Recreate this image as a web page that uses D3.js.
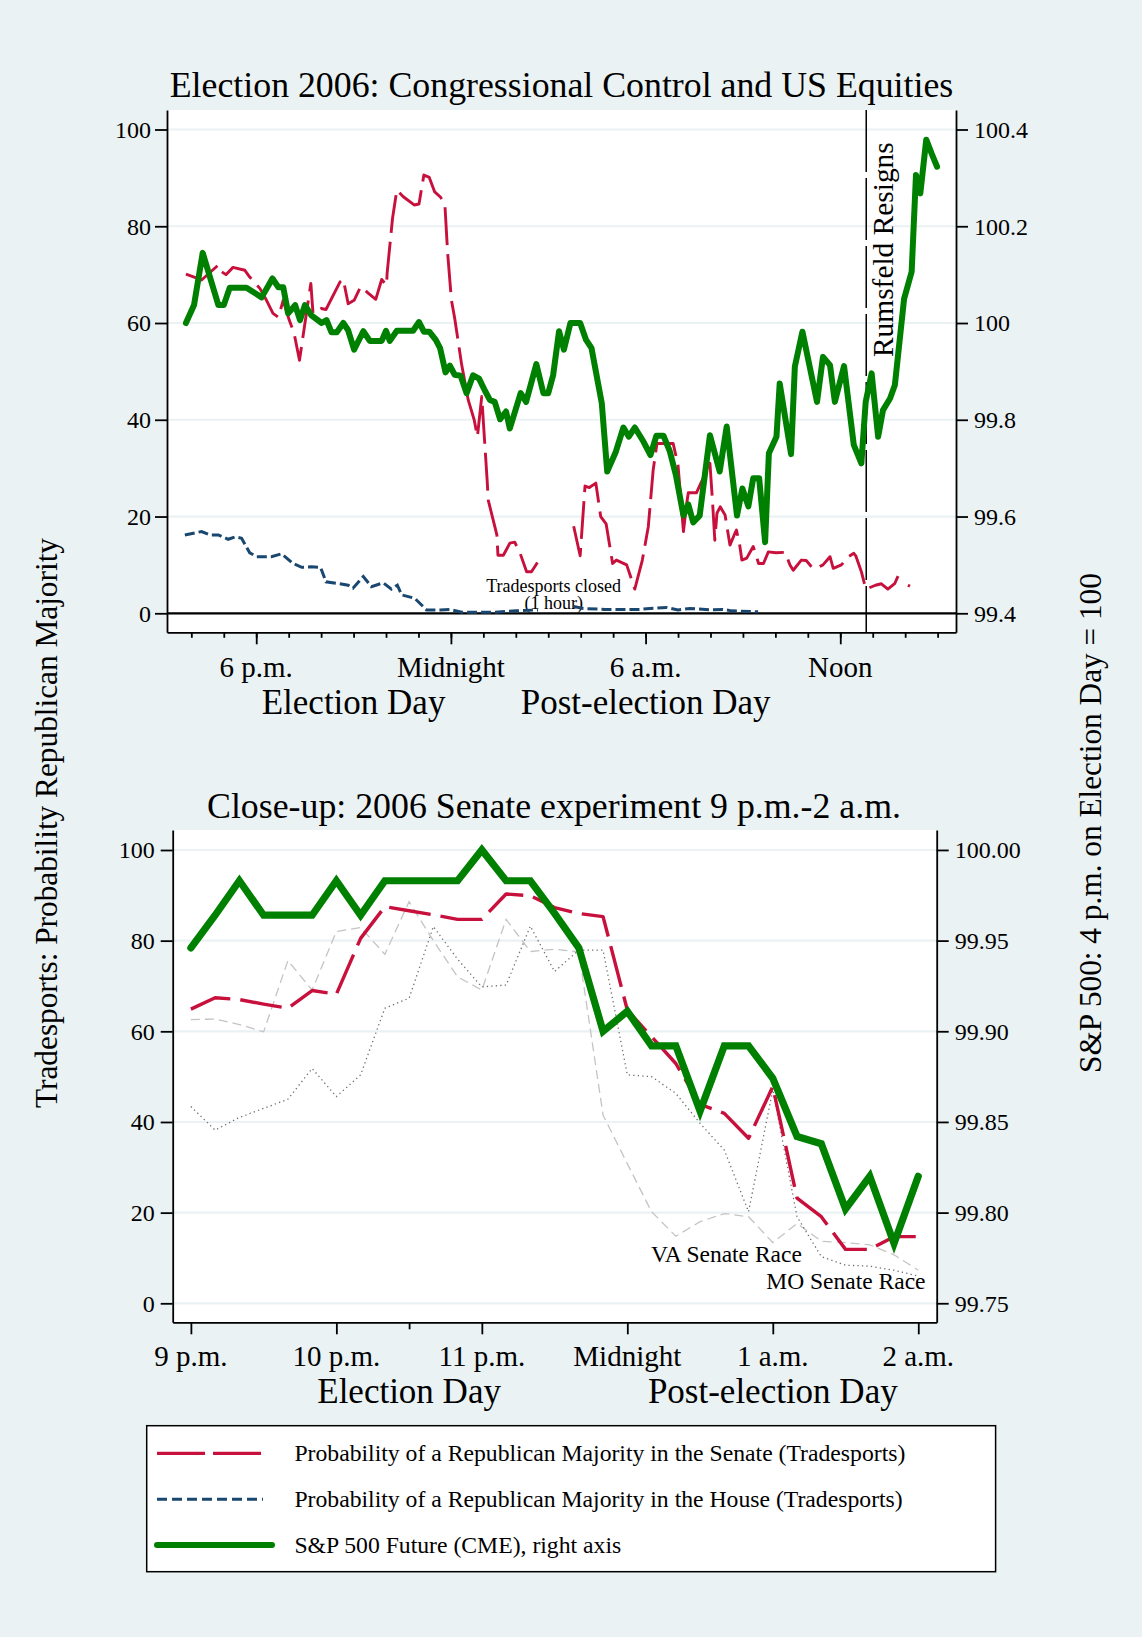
<!DOCTYPE html>
<html>
<head>
<meta charset="utf-8">
<script src="https://cdn.jsdelivr.net/npm/d3@7"></script>
<style>
	body { margin: 0; background: #eaf2f3; }
	svg text { font-family: "Liberation Serif", "Times New Roman", serif; fill: #000; }
</style>
</head>
<body>
<svg id="chart" width="1142" height="1637"></svg>
<script>
// times are minutes relative to midnight (negative = election day evening)

// ---- top panel: full session ----
const spTop = [
	[-490, 100.000], [-475, 100.037], [-459, 100.145], [-430, 100.037], [-420, 100.037], [-409, 100.073],
	[-378, 100.073], [-350, 100.053], [-330, 100.092], [-319, 100.074], [-310, 100.074], [-301, 100.020],
	[-288, 100.037], [-279, 100.006], [-270, 100.037], [-258, 100.016], [-239, 100.000], [-230, 100.006],
	[-221, 99.981], [-211, 99.981], [-199, 100.000], [-190, 99.985], [-179, 99.945], [-162, 99.983],
	[-150, 99.963], [-128, 99.963], [-120, 99.984], [-113, 99.963], [-100, 99.984], [-70, 99.984],
	[-59, 100.002], [-50, 99.982], [-40, 99.982], [-28, 99.965], [-20, 99.948], [-10, 99.898],
	[-2, 99.912], [7, 99.893], [18, 99.891], [29, 99.855], [41, 99.892], [52, 99.885],
	[63, 99.860], [72, 99.841], [81, 99.837], [91, 99.801], [102, 99.817], [109, 99.782],
	[129, 99.855], [139, 99.837], [158, 99.915], [171, 99.855], [180, 99.855], [189, 99.892],
	[200, 99.983], [209, 99.945], [221, 100.000], [239, 100.000], [250, 99.965], [260, 99.948],
	[279, 99.834], [289, 99.693], [305, 99.734], [319, 99.784], [329, 99.765], [340, 99.784],
	[356, 99.755], [369, 99.727], [380, 99.767], [393, 99.767], [405, 99.734], [416, 99.686],
	[430, 99.602], [439, 99.625], [448, 99.588], [460, 99.602], [479, 99.768], [497, 99.693],
	[510, 99.786], [529, 99.602], [539, 99.658], [550, 99.621], [559, 99.679], [570, 99.679],
	[581, 99.547], [588, 99.731], [602, 99.765], [608, 99.875], [629, 99.729], [636, 99.910],
	[650, 99.982], [677, 99.837], [688, 99.930], [701, 99.913], [710, 99.837], [727, 99.911],
	[745, 99.748], [759, 99.710], [767, 99.837], [778, 99.896], [790, 99.765], [799, 99.820],
	[812, 99.844], [821, 99.872], [838, 100.050], [852, 100.106], [860, 100.306], [868, 100.268],
	[879, 100.379], [889, 100.350], [899, 100.323]
];

const senateTop = [
	[-490, 70.1], [-461, 68.9], [-430, 72.0], [-424, 70.6], [-416, 70.0], [-403, 71.5],
	[-381, 70.9], [-372, 69.5], [-353, 67.1], [-341, 64.7], [-329, 62.0], [-319, 61.2],
	[-310, 64.7], [-299, 60.6], [-290, 57.9], [-280, 52.3], [-259, 68.2], [-255, 62.0],
	[-240, 63.0], [-231, 62.8], [-205, 68.5], [-199, 69.0], [-190, 64.0], [-179, 64.7],
	[-167, 67.5], [-153, 66.2], [-139, 64.9], [-128, 69.0], [-119, 67.8], [-118, 70.2],
	[-108, 81.6], [-100, 87.5], [-88, 86.1], [-68, 84.4], [-59, 84.6], [-50, 90.6],
	[-40, 90.1], [-30, 87.1], [-19, 86.0], [-11, 84.2], [-6, 74.4], [1, 64.7],
	[7, 61.0], [20, 51.3], [32, 44.1], [43, 40.0], [49, 36.5], [57, 44.8],
	[67, 27.5], [69, 23.4], [85, 16.2], [87, 12.0], [97, 12.0], [109, 14.5],
	[118, 14.7], [128, 12.4], [140, 8.6], [149, 8.6], [160, 10.5],
	[190, null],
	[227, 18.0], [239, 11.9], [248, 26.3], [256, 26.0], [268, 26.9], [277, 20.0],
	[287, 18.5], [299, 10.3], [306, 11.0], [325, 10.0], [340, 5.0], [354, 11.0],
	[365, 17.9], [374, 29.6], [381, 35.1], [411, 35.1], [420, 30.6], [430, 16.9],
	[436, 22.7], [439, 24.9], [454, 24.9], [479, 31.0], [484, 22.7], [488, 15.1],
	[492, 20.7], [498, 22.0], [507, 20.3], [516, 14.1], [525, 16.5], [528, 17.2],
	[534, 14.1], [538, 11.0], [547, 11.4], [559, 13.8], [569, 10.3], [578, 10.3],
	[587, 12.7], [601, 12.5], [618, 12.6], [627, 10.0], [633, 8.9], [648, 11.0],
	[657, 10.9], [667, 9.6], [676, 9.3], [688, 10.0], [701, 11.7], [707, 9.3],
	[722, 10.0], [735, 11.7], [745, 12.4], [749, 11.8], [759, 8.6], [765, 6.0],
	[768, 5.0], [785, 5.8], [796, 6.1], [808, 5.0], [821, 6.2], [828, 8.0], [835, 7.2],
	[840, null],
	[845, 5.8], [849, 5.6]
];

const houseTop = [
	[-492, 16.2], [-461, 16.9], [-446, 16.2], [-430, 16.2], [-412, 15.3], [-399, 15.8],
	[-387, 15.5], [-372, 12.5], [-359, 11.7], [-344, 11.7], [-332, 11.7], [-313, 12.3],
	[-292, 10.3], [-276, 9.5], [-258, 9.6], [-241, 9.5], [-231, 6.5], [-211, 6.2],
	[-190, 5.8], [-181, 5.2], [-162, 7.6], [-147, 5.5], [-125, 6.3], [-110, 5.0],
	[-99, 5.8], [-91, 3.8], [-67, 3.1], [-45, 0.7], [-20, 0.7], [-2, 0.8],
	[20, 0.2], [48, 0.2], [78, 0.2], [121, 0.5], [161, 0.7],
	[190, null],
	[227, 1.4], [245, 1.0], [285, 0.8], [319, 0.8], [349, 0.8], [368, 1.0],
	[399, 1.2], [420, 0.7], [442, 1.0], [479, 0.7], [503, 0.8], [519, 0.5], [568, 0.3]
];

const rumsfeldTime = 768;
const topLeftTicks = [0, 20, 40, 60, 80, 100];
const topRightTicks = [99.4, 99.6, 99.8, 100, 100.2, 100.4];
const topHourTicks = [-480, -420, -360, -300, -240, -180, -120, -60, 0, 60, 120, 180, 240, 300, 360, 420, 480, 540, 600, 660, 720, 780, 840, 900];
const topTimeLabels = [[-360, '6 p.m.'], [0, 'Midnight'], [360, '6 a.m.'], [720, 'Noon']];
const topDayLabels = [[-180, 'Election Day'], [360, 'Post-election Day']];

// ---- bottom panel: 9 p.m. - 2 a.m. close-up, 10 minute steps ----
const closeTimes = [-180, -170, -160, -150, -140, -130, -120, -110, -100, -90, -80, -70, -60, -50, -40, -30,
	-20, -10, 0, 10, 20, 30, 40, 50, 60, 70, 80, 90, 100, 110, 120];
const spClose = [99.946, 99.964, 99.983, 99.964, 99.964, 99.964, 99.983, 99.964, 99.983, 99.983, 99.983,
	99.983, 100.000, 99.983, 99.983, 99.965, 99.946, 99.900, 99.911, 99.892, 99.892, 99.856, 99.892,
	99.892, 99.874, 99.842, 99.838, 99.802, 99.820, 99.783, 99.820];
const senateClose = [64.9, 67.4, 67.0, 66.0, 65.1, 69.0, 68.2, 80.5, 87.5, 86.6, 85.7, 84.7, 84.7, 90.3,
	89.9, 87.3, 86.0, 85.3, 64.7, 58.8, 52.9, 43.9, 41.9, 36.4, 47.8, 23.2, 19.1, 11.9, 11.9, 14.7, 14.7];
const vaClose = [62.6, 62.7, 61.5, 59.9, 75.6, 69.1, 82.0, 82.9, 77.0, 88.6, 80.0, 72.0, 69.1, 84.7, 77.6,
	78.1, 77.5, 41.5, 30.8, 20.2, 14.8, 18.0, 19.8, 19.1, 13.4, 17.6, 13.7, 13.4, 12.9, 10.7, 7.3];
const moClose = [43.4, 38.2, 41.0, 43.0, 45.0, 51.8, 45.6, 50.4, 65.1, 67.3, 83.1, 75.9, 69.8, 70.2, 83.2,
	73.2, 77.9, 77.9, 50.4, 50.0, 46.3, 39.7, 33.8, 20.2, 47.1, 19.1, 10.3, 8.4, 8.2, 7.3, 6.0];

const closeLeftTicks = [0, 20, 40, 60, 80, 100];
const closeRightTicks = [99.75, 99.80, 99.85, 99.90, 99.95, 100.00];
const closeTimeLabels = [[-180, '9 p.m.'], [-120, '10 p.m.'], [-60, '11 p.m.'], [0, 'Midnight'], [60, '1 a.m.'], [120, '2 a.m.']];
const closeMinorTicks = [-90];
const closeDayLabels = [[-90, 'Election Day'], [60, 'Post-election Day']];

const legendItems = [
	{label: 'Probability of a Republican Majority in the Senate (Tradesports)', color: '#c8103c', dash: '48,8', width: 3.2},
	{label: 'Probability of a Republican Majority in the House (Tradesports)', color: '#1a476f', dash: '10,5', width: 3},
	{label: 'S&P 500 Future (CME), right axis', color: '#008000', dash: null, width: 6}
];

const RED = '#c8103c', NAVY = '#1a476f', GREEN = '#008000', BG = '#eaf2f3';
const svg = d3.select('#chart');
svg.append('rect').attr('width', 1142).attr('height', 1637).attr('fill', BG);

function panel(o) {
	let g = svg.append('g');
	g.append('rect')
		.attr('x', o.x0).attr('y', o.y0)
		.attr('width', o.x1 - o.x0).attr('height', o.y1 - o.y0)
		.attr('fill', '#fff');

	let x = d3.scaleLinear().domain(o.xDom).range([o.x0, o.x1]);
	let y = d3.scaleLinear().domain(o.yDom).range([o.y1, o.y0]);
	let yr = d3.scaleLinear().domain(o.yrDom).range([o.y1, o.y0]);

	g.selectAll('line.grid').data(o.leftTicks).join('line')
		.attr('class', 'grid')
		.attr('x1', o.x0).attr('x2', o.x1)
		.attr('y1', d => y(d)).attr('y2', d => y(d))
		.attr('stroke', BG).attr('stroke-width', 2.2);

	let left = g.append('g').attr('transform', 'translate(' + o.x0 + ',0)')
		.call(d3.axisLeft(y).tickValues(o.leftTicks).tickSize(12).tickPadding(o.pad).tickSizeOuter(0));
	let right = g.append('g').attr('transform', 'translate(' + o.x1 + ',0)')
		.call(d3.axisRight(yr).tickValues(o.rightTicks).tickFormat(o.rightFormat).tickSize(12).tickPadding(6).tickSizeOuter(0));
	[left, right].forEach(a => {
		a.selectAll('text').attr('font-size', 24).attr('dy', '0.33em');
	});

	g.append('g').attr('transform', 'translate(0,' + o.y1 + ')')
		.call(d3.axisBottom(x).tickValues(o.timeLabels.map(d => d[0])).tickFormat('').tickSize(12).tickSizeOuter(0));
	g.append('g').attr('transform', 'translate(0,' + o.y1 + ')')
		.call(d3.axisBottom(x).tickValues(o.minorTicks).tickFormat('').tickSize(o.minorSize).tickSizeOuter(0))
		.select('.domain').remove();

	g.selectAll('.domain, .tick line').attr('stroke', '#000').attr('stroke-width', 1.8);

	g.selectAll('text.tlab').data(o.timeLabels).join('text')
		.attr('class', 'tlab')
		.attr('x', d => x(d[0])).attr('y', o.labelY)
		.attr('text-anchor', 'middle').attr('font-size', 29)
		.text(d => d[1]);
	g.selectAll('text.dlab').data(o.dayLabels).join('text')
		.attr('class', 'dlab')
		.attr('x', d => x(d[0])).attr('y', o.dayY)
		.attr('text-anchor', 'middle').attr('font-size', 35)
		.text(d => d[1]);

	g.append('text')
		.attr('x', (o.x0 + o.x1) / 2 + o.titleShift).attr('y', o.titleY)
		.attr('text-anchor', 'middle').attr('font-size', 35.8)
		.text(o.title);

	return {g: g, x: x, y: y, yr: yr};
}

// ---- top panel ----
let topPanel = panel({
	x0: 167, x1: 956, y0: 110, y1: 632.3,
	xDom: [-525, 934], yDom: [-3.93, 104.03], yrDom: [99.3607, 100.4403],
	leftTicks: topLeftTicks, rightTicks: topRightTicks, rightFormat: d => String(d), pad: 4,
	timeLabels: topTimeLabels, minorTicks: topHourTicks, minorSize: 5.5,
	dayLabels: topDayLabels, labelY: 677, dayY: 714,
	title: 'Election 2006: Congressional Control and US Equities', titleY: 97, titleShift: 0
});

topPanel.g.append('line')
	.attr('x1', 167).attr('x2', 956)
	.attr('y1', topPanel.y(0)).attr('y2', topPanel.y(0))
	.attr('stroke', '#000').attr('stroke-width', 2.2);

topPanel.g.append('line')
	.attr('x1', topPanel.x(rumsfeldTime)).attr('x2', topPanel.x(rumsfeldTime))
	.attr('y1', 110).attr('y2', 632.3)
	.attr('stroke', '#000').attr('stroke-width', 1.5)
	.attr('stroke-dasharray', '62,6');

topPanel.g.append('text')
	.attr('transform', 'translate(' + (topPanel.x(rumsfeldTime) + 26.5) + ',357) rotate(-90)')
	.attr('font-size', 29.4)
	.text('Rumsfeld Resigns');

topPanel.g.append('text')
	.attr('x', topPanel.x(190)).attr('y', 592)
	.attr('text-anchor', 'middle').attr('font-size', 18)
	.text('Tradesports closed');
topPanel.g.append('text')
	.attr('x', topPanel.x(190)).attr('y', 609)
	.attr('text-anchor', 'middle').attr('font-size', 18)
	.text('(1 hour)');

let lineTop = d3.line().defined(d => d[1] !== null).x(d => topPanel.x(d[0])).y(d => topPanel.y(d[1]));
let lineTopR = d3.line().x(d => topPanel.x(d[0])).y(d => topPanel.yr(d[1]));

topPanel.g.append('path').datum(houseTop).attr('d', lineTop)
	.attr('fill', 'none').attr('stroke', NAVY).attr('stroke-width', 3)
	.attr('stroke-dasharray', '10,4');
topPanel.g.append('path').datum(senateTop).attr('d', lineTop)
	.attr('fill', 'none').attr('stroke', RED).attr('stroke-width', 2.9)
	.attr('stroke-linejoin', 'round').attr('stroke-dasharray', '38,9');
topPanel.g.append('path').datum(spTop).attr('d', lineTopR)
	.attr('fill', 'none').attr('stroke', GREEN).attr('stroke-width', 6)
	.attr('stroke-linejoin', 'round').attr('stroke-linecap', 'round');

// ---- bottom panel ----
let closePanel = panel({
	x0: 172.7, x1: 936.7, y0: 830, y1: 1322.3,
	xDom: [-187.5, 127.6], yDom: [-4.19, 104.41], yrDom: [99.7395, 100.0110],
	leftTicks: closeLeftTicks, rightTicks: closeRightTicks, rightFormat: d3.format('.2f'), pad: 6,
	timeLabels: closeTimeLabels, minorTicks: closeMinorTicks, minorSize: 7,
	dayLabels: closeDayLabels, labelY: 1366, dayY: 1403,
	title: 'Close-up: 2006 Senate experiment 9 p.m.-2 a.m.', titleY: 818, titleShift: -0.7
});

let closeRows = closeTimes.map((t, i) => ({t: t, sp: spClose[i], senate: senateClose[i], va: vaClose[i], mo: moClose[i]}));
let lineClose = key => d3.line().x(d => closePanel.x(d.t)).y(d => closePanel.y(d[key]));

closePanel.g.append('path').datum(closeRows).attr('d', lineClose('va'))
	.attr('fill', 'none').attr('stroke', '#c4c4c4').attr('stroke-width', 1.3)
	.attr('stroke-dasharray', '9,5');
closePanel.g.append('path').datum(closeRows).attr('d', lineClose('mo'))
	.attr('fill', 'none').attr('stroke', '#6e6e6e').attr('stroke-width', 1.3)
	.attr('stroke-dasharray', '1.3,3.2');
closePanel.g.append('path').datum(closeRows).attr('d', lineClose('senate'))
	.attr('fill', 'none').attr('stroke', RED).attr('stroke-width', 3.4)
	.attr('stroke-linejoin', 'round').attr('stroke-dasharray', '42,10');
closePanel.g.append('path').datum(closeRows)
	.attr('d', d3.line().x(d => closePanel.x(d.t)).y(d => closePanel.yr(d.sp)))
	.attr('fill', 'none').attr('stroke', GREEN).attr('stroke-width', 7.2)
	.attr('stroke-linejoin', 'miter').attr('stroke-linecap', 'round');

closePanel.g.append('text')
	.attr('x', closePanel.x(72)).attr('y', closePanel.y(9.1))
	.attr('text-anchor', 'end').attr('font-size', 23.5)
	.text('VA Senate Race');
closePanel.g.append('text')
	.attr('x', closePanel.x(123)).attr('y', closePanel.y(3.1))
	.attr('text-anchor', 'end').attr('font-size', 23.5)
	.text('MO Senate Race');

// ---- shared axis titles ----
svg.append('text')
	.attr('transform', 'translate(57,823) rotate(-90)')
	.attr('text-anchor', 'middle').attr('font-size', 31.3)
	.text('Tradesports: Probability Republican Majority');
svg.append('text')
	.attr('transform', 'translate(1101,823) rotate(-90)')
	.attr('text-anchor', 'middle').attr('font-size', 31.3)
	.text('S&P 500: 4 p.m. on Election Day = 100');

// ---- legend ----
let legend = svg.append('g');
legend.append('rect')
	.attr('x', 146.7).attr('y', 1425.7).attr('width', 848.9).attr('height', 146)
	.attr('fill', '#fff').attr('stroke', '#000').attr('stroke-width', 1.5);
let rowY = d3.scalePoint().domain(d3.range(legendItems.length)).range([1453.3, 1545]);
let item = legend.selectAll('g.item').data(legendItems).join('g').attr('class', 'item');
item.append('line')
	.attr('x1', 157).attr('x2', (d, i) => i === 2 ? 272 : 263)
	.attr('y1', (d, i) => rowY(i)).attr('y2', (d, i) => rowY(i))
	.attr('stroke', d => d.color).attr('stroke-width', d => d.width)
	.attr('stroke-dasharray', d => d.dash)
	.attr('stroke-linecap', (d, i) => i === 2 ? 'round' : 'butt');
item.append('text')
	.attr('x', 294.4).attr('y', (d, i) => rowY(i) + 8)
	.attr('font-size', 23.7)
	.text(d => d.label);
</script>
</body>
</html>
